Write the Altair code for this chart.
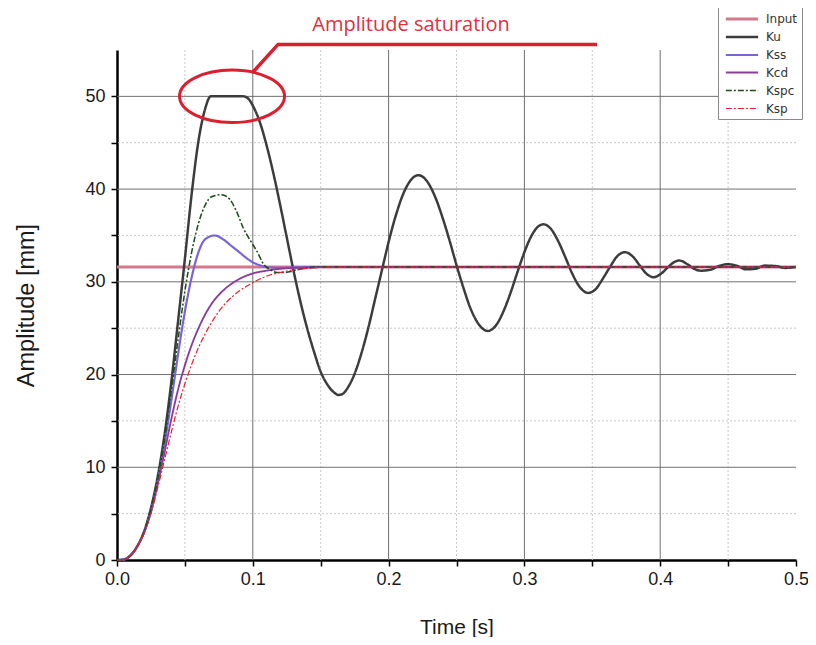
import altair as alt
import pandas as pd

# ---------------- data ----------------
series_names = ["Input", "Ku", "Kss", "Kcd", "Kspc", "Ksp"]
series_colors = ["#d4788e", "#3c3c3c", "#7a62d8", "#8a3c9c", "#1a4d1a", "#e81f2c"]
series_dash = [[1, 0], [1, 0], [1, 0], [1, 0], [6, 2, 2, 2], [6, 2, 2, 2]]
series_width = [2.8, 1.2, 1.1, 1.2, 1.6, 1.8]

input_t = [0.0, 0.5]
input_v = [31.6, 31.6]

ku_t = [0, 0.005, 0.01, 0.015, 0.02, 0.025, 0.03, 0.035, 0.04, 0.045, 0.05, 0.055,
        0.06, 0.065, 0.069, 0.093, 0.097, 0.1, 0.105, 0.11, 0.115, 0.12, 0.125, 0.13,
        0.135, 0.14, 0.145, 0.15, 0.155, 0.16, 0.163, 0.166, 0.17, 0.175, 0.18, 0.185,
        0.19, 0.195, 0.2, 0.205, 0.21, 0.215, 0.222, 0.228, 0.235, 0.24, 0.245, 0.25,
        0.255, 0.26, 0.266, 0.273, 0.28, 0.285, 0.29, 0.295, 0.3, 0.305, 0.309, 0.314,
        0.319, 0.325, 0.33, 0.335, 0.34, 0.347, 0.353, 0.358, 0.363, 0.368, 0.374, 0.38,
        0.385, 0.39, 0.395, 0.4, 0.405, 0.41, 0.414, 0.42, 0.425, 0.43, 0.437, 0.443,
        0.45, 0.457, 0.463, 0.47, 0.477, 0.485, 0.492, 0.5]
ku_v = [0, 0.05, 0.5, 1.5, 3.1, 5.6, 9.0, 13.5, 19.2, 25.8, 32.5, 39.5,
        45.2, 48.7, 50.0, 50.0, 49.7, 49.0, 47.3, 44.8, 41.8, 38.4, 34.8, 31.2,
        27.9, 25.0, 22.5, 20.3, 18.9, 18.05, 17.8, 17.9, 18.6, 20.1, 22.3, 25.0,
        28.1, 31.2, 34.3, 37.0, 39.2, 40.7, 41.5, 40.9, 38.9, 36.8, 34.4, 31.8,
        29.4, 27.25, 25.5, 24.7, 25.5, 26.96, 28.9, 31.1, 33.2, 34.9, 35.8, 36.2,
        35.8, 34.35, 32.7, 30.96, 29.6, 28.8, 29.3, 30.4, 31.6, 32.7, 33.2, 32.7,
        31.75, 30.86, 30.5, 30.8, 31.47, 32.1, 32.3, 31.9, 31.4, 31.2, 31.3, 31.7,
        31.9, 31.7, 31.35, 31.4, 31.75, 31.7, 31.5, 31.6]

kss_t = [0, 0.005, 0.01, 0.015, 0.02, 0.025, 0.03, 0.035, 0.04, 0.045, 0.05, 0.055,
         0.06, 0.065, 0.072, 0.078, 0.084, 0.09, 0.095, 0.1, 0.105, 0.11, 0.12, 0.13,
         0.15, 0.2, 0.3, 0.4, 0.5]
kss_v = [0, 0.05, 0.5, 1.5, 3.0, 5.3, 8.5, 12.5, 17.2, 22.2, 26.8, 30.5,
         33.2, 34.6, 35.0, 34.6, 33.9, 33.2, 32.6, 32.1, 31.8, 31.6, 31.5, 31.55,
         31.6, 31.6, 31.6, 31.6, 31.6]

kcd_t = [0, 0.005, 0.01, 0.015, 0.02, 0.025, 0.03, 0.035, 0.04, 0.045, 0.05, 0.055,
         0.06, 0.065, 0.07, 0.075, 0.08, 0.09, 0.1, 0.11, 0.12, 0.13, 0.14, 0.16,
         0.2, 0.3, 0.4, 0.5]
kcd_v = [0, 0.05, 0.5, 1.5, 3.0, 5.2, 8.2, 11.6, 15.2, 18.4, 21.0, 23.2,
         25.0, 26.5, 27.7, 28.6, 29.3, 30.3, 30.9, 31.2, 31.4, 31.5, 31.55, 31.6,
         31.6, 31.6, 31.6, 31.6]

kspc_t = [0, 0.005, 0.01, 0.015, 0.02, 0.025, 0.03, 0.035, 0.04, 0.045, 0.05, 0.055,
          0.06, 0.065, 0.07, 0.077, 0.083, 0.088, 0.093, 0.098, 0.103, 0.108, 0.113,
          0.118, 0.123, 0.128, 0.133, 0.14, 0.15, 0.2, 0.25, 0.3, 0.35, 0.4, 0.45, 0.5]
kspc_v = [0, 0.05, 0.5, 1.5, 3.05, 5.5, 8.8, 13.0, 18.3, 23.8, 29.0, 33.2,
          36.3, 38.3, 39.2, 39.4, 38.9, 37.6, 35.8, 34.5, 33.3, 31.9, 31.3,
          31.0, 31.0, 31.1, 31.3, 31.5, 31.6, 31.6, 31.6, 31.6, 31.6, 31.6, 31.6, 31.6]

ksp_t = [0, 0.005, 0.01, 0.015, 0.02, 0.025, 0.03, 0.035, 0.04, 0.045, 0.05, 0.055,
         0.06, 0.065, 0.07, 0.075, 0.08, 0.09, 0.1, 0.11, 0.12, 0.13, 0.14, 0.15,
         0.17, 0.2, 0.3, 0.4, 0.5]
ksp_v = [0, 0.05, 0.5, 1.5, 2.9, 5.0, 7.8, 10.8, 13.8, 16.6, 19.0, 21.1,
         22.9, 24.4, 25.7, 26.8, 27.7, 29.0, 29.9, 30.6, 31.0, 31.3, 31.45, 31.55,
         31.6, 31.6, 31.6, 31.6, 31.6]

x_major = [0.1, 0.2, 0.3, 0.4]
x_minor = [0.05, 0.15, 0.25, 0.35, 0.45]
y_major = [10, 20, 30, 40, 50]
y_minor = [5, 15, 25, 35, 45]
x_tick_values = [0.0, 0.05, 0.1, 0.15, 0.2, 0.25, 0.3, 0.35, 0.4, 0.45, 0.5]
y_tick_values = [0, 5, 10, 15, 20, 25, 30, 35, 40, 45, 50]

annot_text = "Amplitude saturation"
annot_text_pos = (0.2165, 57.7)
ellipse_center = (0.0847, 50.0)
leader_t = [0.1, 0.1186, 0.3535]
leader_v = [52.6, 55.6, 55.6]

# ---------------- build tables ----------------
all_t = [input_t, ku_t, kss_t, kcd_t, kspc_t, ksp_t]
all_v = [input_v, ku_v, kss_v, kcd_v, kspc_v, ksp_v]
frames = []
for name, ts, vs in zip(series_names, all_t, all_v):
    frames.append(pd.DataFrame({"t": ts, "v": vs, "series": name}))
df = pd.concat(frames, ignore_index=True)
df["order"] = range(len(df))

FONT = "Liberation Sans"
xscale = alt.Scale(domain=[0, 0.5], nice=False, zero=False)
yscale = alt.Scale(domain=[0, 55], nice=False, zero=False)

# grid rules
gx_major = alt.Chart(pd.DataFrame({"t": x_major})).mark_rule(
    color="#707070", strokeWidth=1).encode(x=alt.X("t:Q", scale=xscale))
gx_minor = alt.Chart(pd.DataFrame({"t": x_minor})).mark_rule(
    color="#c8c8c8", strokeWidth=1, strokeDash=[2, 2]).encode(x=alt.X("t:Q", scale=xscale))
gy_major = alt.Chart(pd.DataFrame({"v": y_major})).mark_rule(
    color="#707070", strokeWidth=1).encode(y=alt.Y("v:Q", scale=yscale))
gy_minor = alt.Chart(pd.DataFrame({"v": y_minor})).mark_rule(
    color="#c8c8c8", strokeWidth=1, strokeDash=[2, 2]).encode(y=alt.Y("v:Q", scale=yscale))

lines = alt.Chart(df).mark_line(interpolate="monotone").encode(
    x=alt.X("t:Q", scale=xscale, title="Time [s]",
            axis=alt.Axis(values=x_tick_values, labelFlush=False,
                          labelExpr="abs(datum.value*10 - round(datum.value*10)) < 1e-6 ? format(datum.value, '.1f') : ''")),
    y=alt.Y("v:Q", scale=yscale, title="Amplitude [mm]",
            axis=alt.Axis(values=y_tick_values, titleFontSize=23.5,
                          labelExpr="datum.value % 10 == 0 ? datum.label : ''")),
    color=alt.Color("series:N",
                    scale=alt.Scale(domain=series_names, range=series_colors),
                    legend=alt.Legend(title=None, orient="none", legendX=601, legendY=-45,
                                      strokeColor="#8a8a8a", fillColor="white",
                                      padding=4, rowPadding=2,
                                      symbolType="M-1.9,0H1.9", symbolSize=289,
                                      symbolStrokeWidth=1.3, symbolOffset=10,
                                      labelOffset=14, labelFont="DejaVu Sans", labelFontSize=12,
                                      labelColor="#333333")),
    strokeDash=alt.StrokeDash("series:N",
                              scale=alt.Scale(domain=series_names, range=series_dash),
                              legend=alt.Legend(title=None, orient="none", legendX=601, legendY=-45)),
    strokeWidth=alt.StrokeWidth("series:N",
                                scale=alt.Scale(domain=series_names, range=series_width),
                                legend=None),
    order=alt.Order("order:Q"),
)

ellipse = alt.Chart(pd.DataFrame({"t": [ellipse_center[0]], "v": [ellipse_center[1]]})).mark_point(
    shape="M-1,0A1,0.5,0,1,0,1,0A1,0.5,0,1,0,-1,0Z", size=11025, filled=False,
    stroke="#dc1f30", strokeWidth=3, opacity=1
).encode(x=alt.X("t:Q", scale=xscale), y=alt.Y("v:Q", scale=yscale))

leader = alt.Chart(pd.DataFrame({"t": leader_t, "v": leader_v, "i": [0, 1, 2]})).mark_line(
    color="#dc1f30", strokeWidth=3.5
).encode(x=alt.X("t:Q", scale=xscale), y=alt.Y("v:Q", scale=yscale), order="i:Q")

label = alt.Chart(pd.DataFrame({"t": [annot_text_pos[0]], "v": [annot_text_pos[1]], "txt": [annot_text]})).mark_text(
    font="Open Sans", fontSize=20, color="#e0303f", align="center", baseline="middle"
).encode(x=alt.X("t:Q", scale=xscale), y=alt.Y("v:Q", scale=yscale), text="txt:N")

chart = alt.layer(gx_minor, gy_minor, gx_major, gy_major, lines, ellipse, leader, label).properties(
    width=679, height=510,
    autosize=alt.AutoSizeParams(type="none"),
    padding={"left": 109, "top": 42, "right": 12, "bottom": 77},
    background="white",
).configure_view(strokeWidth=0).configure_axis(
    grid=False, domainColor="#000000", domainWidth=2.5, tickColor="#000000",
    tickWidth=1.5, tickSize=6, labelFont=FONT, labelFontSize=18, labelColor="#1a1a1a",
    titleFont=FONT, titleFontSize=21, titleFontWeight="normal", titleColor="#1a1a1a",
).configure_axisX(labelPadding=4, titlePadding=28).configure_axisY(labelPadding=6, titlePadding=46)

chart.save("out.html", embed_options={"renderer": "svg", "actions": False})
